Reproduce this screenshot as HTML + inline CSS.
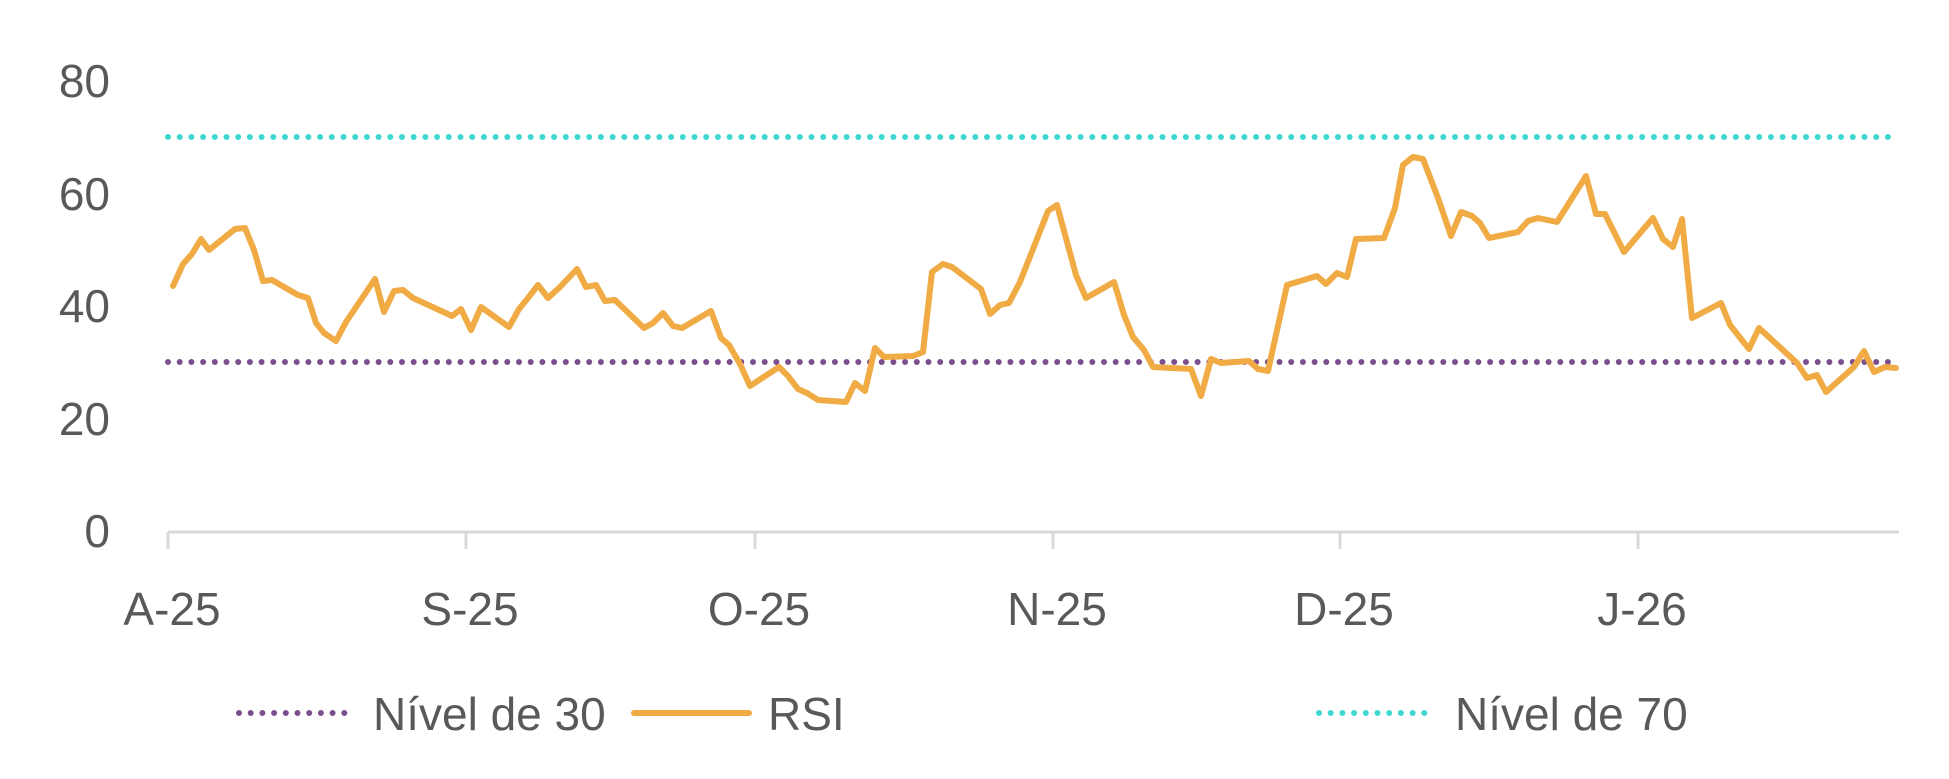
<!DOCTYPE html>
<html><head><meta charset="utf-8"><style>
html,body{margin:0;padding:0;background:#fff;}
svg{display:block;}
text{font-family:"Liberation Sans",sans-serif;fill:#595959;}
</style></head><body>
<svg width="1949" height="779" viewBox="0 0 1949 779" xmlns="http://www.w3.org/2000/svg">
<g font-size="46" text-anchor="end">
<text x="110" y="97">80</text>
<text x="110" y="210">60</text>
<text x="110" y="322">40</text>
<text x="110" y="435">20</text>
<text x="110" y="547">0</text>
</g>
<line x1="168" y1="137" x2="1899" y2="137" stroke="#3fd8d0" stroke-width="6" stroke-linecap="round" stroke-dasharray="0 11.7"/>
<line x1="168" y1="362" x2="1899" y2="362" stroke="#7b4f8e" stroke-width="6" stroke-linecap="round" stroke-dasharray="0 11.7"/>
<g stroke="#d9d9d9" stroke-width="3">
<line x1="168" y1="532" x2="1899" y2="532"/>
<line x1="168" y1="532" x2="168" y2="549"/>
<line x1="466" y1="532" x2="466" y2="549"/>
<line x1="755" y1="532" x2="755" y2="549"/>
<line x1="1053" y1="532" x2="1053" y2="549"/>
<line x1="1340" y1="532" x2="1340" y2="549"/>
<line x1="1638" y1="532" x2="1638" y2="549"/>
</g>
<g font-size="46" text-anchor="middle">
<text x="172" y="625">A-25</text>
<text x="470" y="625">S-25</text>
<text x="759" y="625">O-25</text>
<text x="1057" y="625">N-25</text>
<text x="1344" y="625">D-25</text>
<text x="1642" y="625">J-26</text>
</g>
<polyline fill="none" stroke="#f0ab45" stroke-width="6" stroke-linejoin="round" stroke-linecap="round" points="
173,286 183,264 192,254 201,239 209,250 235,229 245,228 254,250 263,281 272,280 298,295 308,298 316,323 324,333
336,341 346,322 375,279 384,312 394,291 403,290 413,298 452,316 461,309 471,330 481,307 509,327 519,309 528,298 538,285 548,298 560,287
577,269 586,287 596,285 605,301 615,300 644,328 653,323 663,313 673,326 682,328 711,311 721,338 729,345 740,364 750,386 779,367 788,376 798,389 807,393 818,400 846,402 855,383 865,391 875,348 884,357 913,356 923,352 932,272 943,264 952,267 981,289 990,314 1000,305
1009,303 1020,282 1048,211 1057,205 1076,275 1086,298 1114,282 1124,315 1133,337 1144,350 1153,367 1191,369 1201,396 1211,359 1221,363 1249,361 1258,369 1268,371 1287,285 1317,276 1326,284 1337,273 1347,277 1356,239 1384,238 1395,208 1403,165 1413,157 1423,159
1438,198 1451,236 1461,212 1472,216 1480,223 1489,238 1518,232 1528,221 1538,218 1557,222 1586,176 1596,214 1605,214 1624,252 1653,218 1663,239 1673,247 1682,219 1692,318 1721,303 1730,325 1749,349 1759,328 1797,363 1807,378 1817,375 1826,392 1854,367 1864,351 1874,372 1885,367 1896,368"/>
<line x1="239" y1="713" x2="351" y2="713" stroke="#7b4f8e" stroke-width="6" stroke-linecap="round" stroke-dasharray="0 11.7"/>
<line x1="634" y1="713" x2="749" y2="713" stroke="#f0ab45" stroke-width="6" stroke-linecap="round"/>
<line x1="1319" y1="713" x2="1431" y2="713" stroke="#3fd8d0" stroke-width="6" stroke-linecap="round" stroke-dasharray="0 11.7"/>
<g font-size="46">
<text x="373" y="730">Nível de 30</text>
<text x="768" y="730">RSI</text>
<text x="1455" y="730">Nível de 70</text>
</g>
</svg>
</body></html>
